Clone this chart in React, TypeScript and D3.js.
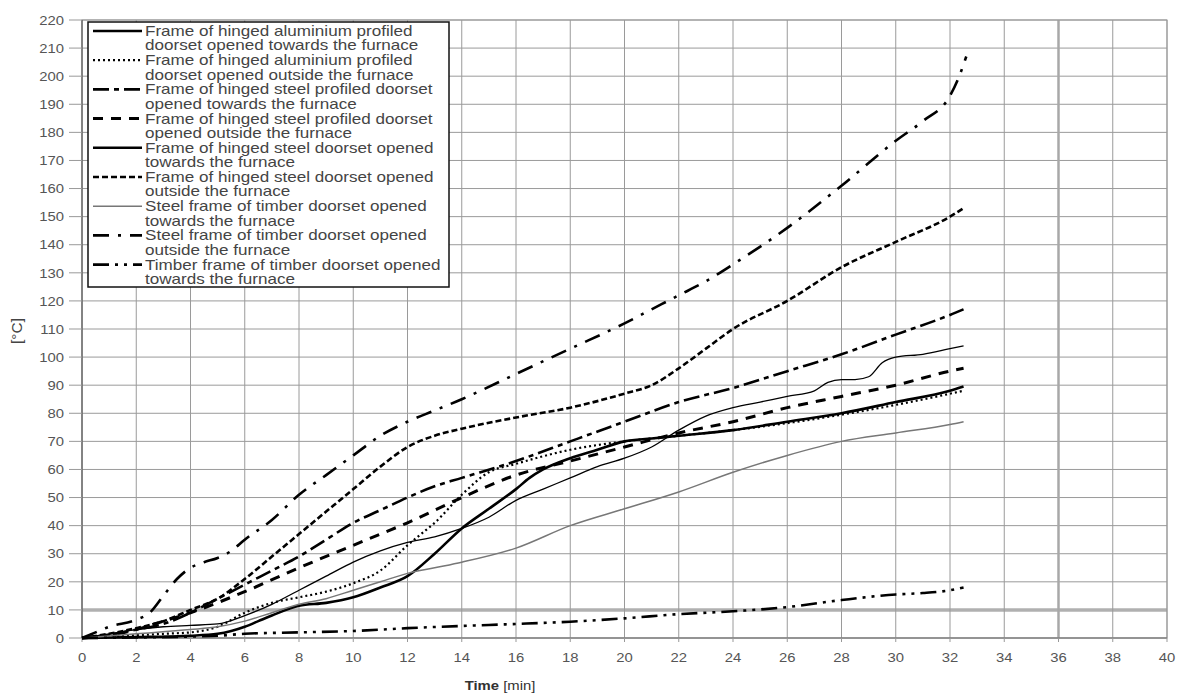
import React from "react";
import * as d3 from "d3";

// time axis ticks (min) and temperature ticks (°C)
const xTicks = d3.range(0, 41, 2);
const yTicks = d3.range(0, 221, 10);

const legendLabels = [
  ["Frame of hinged aluminium profiled", "doorset opened towards the furnace"],
  ["Frame of hinged aluminium profiled", "doorset opened outside the furnace"],
  ["Frame of hinged steel profiled doorset", "opened towards the furnace"],
  ["Frame of hinged steel profiled doorset", "opened outside the furnace"],
  ["Frame of hinged steel doorset opened", "towards the furnace"],
  ["Frame of hinged steel doorset opened", "outside the furnace"],
  ["Steel frame of timber doorset opened", "towards the furnace"],
  ["Steel frame of timber doorset opened", "outside the furnace"],
  ["Timber frame of timber doorset opened", "towards the furnace"],
];

const t1 = [0, 2, 4, 5, 5.5, 6, 6.5, 7, 8, 9, 10, 11, 12, 13, 14, 15, 16, 16.5, 17, 18, 19, 20, 21, 22, 24, 26, 28, 30, 32, 32.5];
const v1 = [0, 0.3, 0.8, 1.5, 2.5, 4, 6, 8, 11.5, 12.5, 14.5, 18, 22, 30, 39, 46, 53, 57, 60, 64, 67, 70, 71, 72, 74, 77, 80, 84, 88, 89.5];

const t2 = [0, 1, 2, 3, 4, 5, 6, 7, 8, 9, 10, 11, 12, 12.5, 13, 14, 15, 16, 18, 20, 22, 24, 26, 28, 30, 32.5];
const v2 = [0, 0.5, 1, 1.5, 2, 4, 9, 12.5, 14.5, 16.5, 19.5, 24, 33, 37, 41, 51, 59, 62, 67, 70, 72, 74, 76.5, 79.5, 83, 88];

const t3 = [0, 1, 2, 3, 4, 5, 6, 7, 8, 9, 10, 11, 12, 13, 14, 16, 18, 20, 22, 24, 26, 28, 30, 32, 32.5];
const v3 = [0, 1, 3, 5, 9, 14, 19, 24, 29, 35, 41, 45.5, 50, 54, 57, 63, 70, 77, 84, 89, 95, 101, 108, 115, 117];

const t4 = [0, 1, 2, 3, 4, 6, 8, 10, 11, 12, 14, 16, 18, 20, 22, 24, 26, 28, 30, 32, 32.5];
const v4 = [0, 1, 3, 6, 9, 16.5, 25, 33, 37, 41, 50, 58, 63, 68, 73, 77, 82, 86, 90, 95, 96];

const t5 = [0, 1, 2, 3, 4, 5, 6, 7, 8, 9, 10, 11, 12, 13, 14, 15, 16, 17, 18, 19, 20, 21, 22, 23, 24, 25, 26, 27, 27.5, 28, 28.5, 29, 29.5, 30, 31, 32, 32.5];
const v5 = [0, 1.5, 3, 4, 4.5, 5, 8, 12, 17, 22, 27, 31, 34, 36, 39, 43, 49, 53, 57, 61, 64, 68, 74, 79, 82, 84, 86, 88, 91, 92, 92, 93, 98, 100, 101, 103, 104];

const t6 = [0, 1, 2, 3, 4, 5, 6, 7, 8, 9, 10, 11, 12, 13, 14, 16, 18, 20, 21, 22, 23, 24, 26, 28, 30, 32, 32.5];
const v6 = [0, 1.5, 3.5, 6, 10, 14, 21, 29, 37, 45, 53, 61, 68, 72, 74.5, 78.5, 82, 87, 90, 96, 103, 110, 120, 132, 141, 150, 153];

const t7 = [0, 2, 4, 5, 6, 7, 8, 9, 10, 11, 12, 13, 14, 16, 18, 20, 22, 24, 26, 28, 30, 32, 32.5];
const v7 = [0, 1.5, 3, 4, 6, 9, 12, 14, 17, 20, 23, 25, 27, 32, 40, 46, 52, 59, 65, 70, 73, 76, 77];

const t8 = [0, 0.5, 1, 2, 2.5, 3, 3.5, 4, 4.5, 5, 5.5, 6, 7, 8, 9, 10, 11, 12, 13, 14, 16, 18, 20, 21, 22, 23, 24, 26, 28, 30, 31, 32, 32.3, 32.6];
const v8 = [0, 2, 4, 6.5, 9, 15, 21, 25, 27, 28.5, 31, 35, 42, 51, 58, 65, 72, 77, 81, 85, 94, 103, 112, 117, 122, 127, 133, 146, 161, 177, 184, 193, 199, 207];

const t9 = [0, 2, 4, 5, 6, 8, 10, 12, 14, 16, 18, 20, 22, 24, 26, 28, 30, 31, 32, 32.5];
const v9 = [0, 0.2, 0.5, 0.8, 1.5, 2, 2.5, 3.5, 4.3, 5, 5.8, 7, 8.5, 9.5, 11, 13.5, 15.5, 16, 17, 18];

const seriesStyle = [
  { w: 2.6, dash: "none", color: "#000" },
  { w: 2.2, dash: "2,3", color: "#000" },
  { w: 2.6, dash: "16,5,5,5", color: "#000" },
  { w: 3, dash: "10,8", color: "#000" },
  { w: 1.3, dash: "none", color: "#000" },
  { w: 2.6, dash: "6,3", color: "#000" },
  { w: 1.5, dash: "none", color: "#777" },
  { w: 2.6, dash: "16,9,3,9", color: "#000" },
  { w: 2.6, dash: "16,6,3,6,3,6", color: "#000" },
];

const series = [
  [t1, v1], [t2, v2], [t3, v3], [t4, v4], [t5, v5],
  [t6, v6], [t7, v7], [t8, v8], [t9, v9],
];

const W = 1187;
const H = 697;
const left = 82;
const right = 1167;
const top = 20;
const bottom = 638;

export default function App() {
  const x = d3.scaleLinear().domain([0, 40]).range([left, right]);
  const y = d3.scaleLinear().domain([0, 220]).range([bottom, top]);
  const line = d3
    .line<[number, number]>()
    .x((d) => x(d[0]))
    .y((d) => y(d[1]))
    .curve(d3.curveMonotoneX);

  const font = "'Liberation Sans', Arial, sans-serif";
  const legX = 88;
  const legY = 22;
  const rowH = 29.2;
  const sx = 1.22; // text in the source is stretched horizontally

  return (
    <svg
      width={W}
      height={H}
      style={{ position: "absolute", left: 0, top: 0, background: "#fff" }}
      fontFamily={font}
    >
      {/* grid */}
      {yTicks.map((v) => (
        <line
          key={"gy" + v}
          x1={left}
          x2={right}
          y1={y(v)}
          y2={y(v)}
          stroke={v === 10 ? "#b0b0b0" : "#9a9a9a"}
          strokeWidth={v === 10 ? 3.5 : 1}
        />
      ))}
      {xTicks.map((v) => (
        <line
          key={"gx" + v}
          x1={x(v)}
          x2={x(v)}
          y1={top}
          y2={bottom}
          stroke={v === 36 ? "#a8a8a8" : "#9a9a9a"}
          strokeWidth={v === 36 ? 2.5 : 1}
        />
      ))}
      <rect x={left} y={top} width={right - left} height={bottom - top} fill="none" stroke="#999" strokeWidth={1} />
      <line x1={left} x2={left} y1={top} y2={bottom} stroke="#555" strokeWidth={1} />
      <line x1={left} x2={right} y1={bottom} y2={bottom} stroke="#777" strokeWidth={1.2} />

      {/* y ticks */}
      {yTicks.map((v) => (
        <g key={"ty" + v}>
          <line x1={left - 13} x2={left} y1={y(v)} y2={y(v)} stroke="#999" strokeWidth={1} />
          <text
            transform={`translate(${left - 18},${y(v)}) scale(1.1,1)`}
            dy="0.35em"
            textAnchor="end"
            fontSize={13.5}
            fill="#555"
          >
            {v}
          </text>
        </g>
      ))}
      {xTicks.map((v) => (
        <g key={"tx" + v}>
          <line x1={x(v)} x2={x(v)} y1={bottom} y2={bottom + 4} stroke="#999" strokeWidth={1} />
          <text
            transform={`translate(${x(v)},${bottom + 24}) scale(1.1,1)`}
            textAnchor="middle"
            fontSize={13.5}
            fill="#555"
          >
            {v}
          </text>
        </g>
      ))}

      {/* series */}
      {series.map(([ts, vs], i) => (
        <path
          key={"s" + i}
          d={line(ts.map((t, j) => [t, vs[j]] as [number, number])) || ""}
          fill="none"
          stroke={seriesStyle[i].color}
          strokeWidth={seriesStyle[i].w}
          strokeDasharray={seriesStyle[i].dash}
          strokeLinejoin="round"
        />
      ))}

      {/* legend */}
      <rect x={legX} y={legY} width={361} height={265} fill="#fff" stroke="#111" strokeWidth={1.5} />
      {legendLabels.map((lines, i) => {
        const cy = legY + 9 + i * rowH;
        const s = seriesStyle[i];
        return (
          <g key={"l" + i}>
            <line
              x1={legX + 5}
              x2={legX + 54}
              y1={cy}
              y2={cy}
              stroke={s.color}
              strokeWidth={s.w === 1.3 ? 2.6 : s.w}
              strokeDasharray={s.dash}
            />
            <g transform={`translate(${legX + 57},${cy}) scale(${sx},1)`} fontSize={14} fill="#444">
              <text dy="0.35em">{lines[0]}</text>
              <text y={14.5} dy="0.35em">{lines[1]}</text>
            </g>
          </g>
        );
      })}

      {/* axis titles */}
      <text
        transform={`translate(22,${(top + bottom) / 2 + 2}) rotate(-90) scale(1.1,1)`}
        textAnchor="middle"
        fontSize={14}
        fill="#444"
      >
        [°C]
      </text>
      <text transform="translate(500,690) scale(1.1,1)" textAnchor="middle" fontSize={13.5} fill="#333">
        <tspan fontWeight="bold">Time</tspan>
        <tspan> [min]</tspan>
      </text>
    </svg>
  );
}
